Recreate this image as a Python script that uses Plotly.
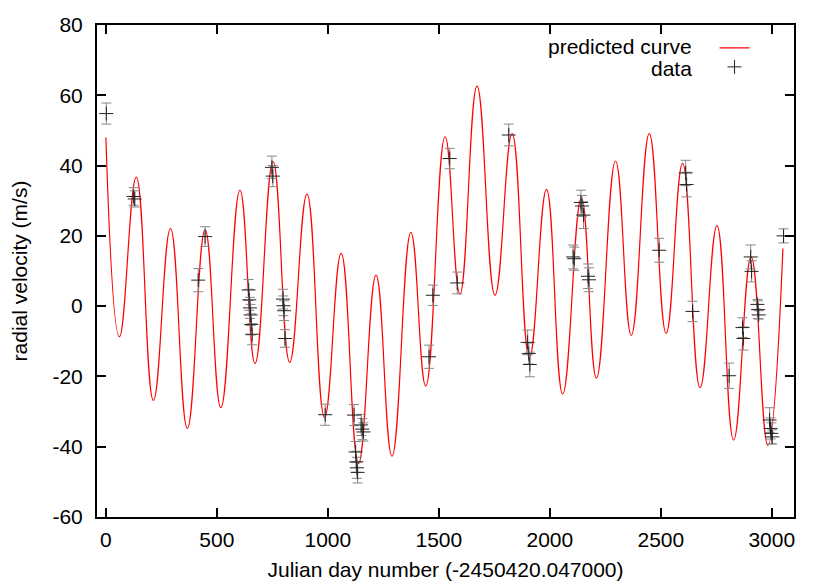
import plotly.graph_objects as go

curve_day = [0, 61, 137, 214, 291, 367, 447, 518, 604, 672, 753, 828, 906, 985,
             1060, 1138, 1217, 1289, 1374, 1441, 1528, 1595, 1672, 1753, 1830,
             1908, 1985, 2058, 2142, 2210, 2296, 2367, 2448, 2524, 2598, 2677,
             2753, 2828, 2907, 2982, 3050]
curve_rv = [48.0, -8.7, 36.7, -26.8, 22.1, -34.8, 21.8, -28.9, 33.0, -16.3, 41.1,
            -16.0, 31.9, -31.7, 15.0, -44.8, 8.8, -42.7, 21.0, -22.7, 48.2, 3.4,
            62.6, 3.1, 49.1, -14.7, 33.2, -25.0, 30.8, -20.5, 41.3, -8.3, 49.1,
            -7.7, 40.6, -23.2, 22.9, -38.1, 14.0, -39.6, 16.4]

# observations
obs_day = [2, 125, 130, 416, 447, 643, 646, 649, 652, 655, 659, 748, 752,
           798, 800, 803, 807, 988, 1118, 1125, 1128, 1131, 1134, 1150, 1155, 1160,
           1456, 1473, 1549, 1583, 1815, 1900, 1905, 1910, 2105, 2110, 2140, 2145,
           2152, 2172, 2176, 2493, 2612, 2616, 2643, 2808, 2868, 2872, 2905, 2909,
           2935, 2938, 2941, 2990, 2994, 2998, 3002, 3053]
obs_rv = [54.8, 31.2, 30.5, 7.4, 19.8, 4.6, 1.8, -0.5, -2.5, -5.2, -8.0, 39.5, 37.0,
          2.0, 0.1, -1.3, -9.2, -30.9, -31.0, -41.5, -44.3, -46.0, -47.3, -33.8, -35.0, -35.8,
          -14.4, 3.1, 42.0, 6.6, 48.7, -10.3, -13.5, -16.6, 14.0, 13.5, 29.5, 28.5,
          25.9, 8.5, 7.5, 15.9, 37.9, 34.6, -1.5, -19.8, -6.1, -9.2, 14.0, 9.9,
          0.5, -1.0, -2.5, -32.4, -34.8, -36.2, -37.2, 20.0]
obs_err = [3.0, 2.5, 2.3, 3.3, 2.8, 3.0, 3.0, 3.0, 3.0, 3.0, 3.0, 3.2, 3.0,
           2.8, 2.8, 2.8, 2.5, 3.0, 3.0, 3.0, 3.0, 3.0, 3.0, 3.0, 3.0, 2.6,
           3.3, 2.9, 2.9, 3.1, 3.1, 3.5, 3.0, 3.5, 3.4, 3.3, 3.5, 3.0,
           3.8, 3.5, 3.4, 3.4, 3.6, 3.5, 2.9, 3.6, 2.8, 3.3, 3.4, 3.0,
           1.4, 2.5, 1.2, 3.5, 3.0, 3.0, 2.0, 2.0]

x_ticks = [0, 500, 1000, 1500, 2000, 2500, 3000]
y_ticks = [-60, -40, -20, 0, 20, 40, 60, 80]
y_labels = ["-60", "-40", "-20", "0", "20", "40", "60", "80"]  # plain hyphen like gnuplot

font = "Liberation Sans, Arial, Helvetica, sans-serif"

fig = go.Figure()

fig.add_trace(go.Scatter(
    x=curve_day, y=curve_rv, mode="lines", name="",
    line=dict(color="#ff0000", width=1.2, shape="spline", smoothing=1.3),
))

fig.add_trace(go.Scatter(
    x=obs_day, y=obs_rv, mode="markers", name="",
    marker=dict(symbol="cross-thin", size=10, line=dict(color="#222222", width=1)),
    error_y=dict(type="data", array=obs_err, visible=True,
                 color="#888888", thickness=1, width=5),
))

# gnuplot style key: text sits left of the sample
for txt, yy in [("predicted curve", 0.956), ("data", 0.912)]:
    fig.add_annotation(text=txt, xref="paper", yref="paper", x=0.857, y=yy,
                       xanchor="right", yanchor="middle", showarrow=False,
                       font=dict(size=21, color="black", family=font))

axis = dict(
    showline=True, linecolor="black", linewidth=2, mirror="ticks",
    ticks="inside", ticklen=9, tickwidth=1.5, tickcolor="black",
    showgrid=False, zeroline=False, automargin=False,
    tickfont=dict(size=21, color="black", family=font),
)

fig.update_xaxes(axis, range=[-40, 3100], tickvals=x_ticks,
                 ticktext=[str(v) for v in x_ticks],
                 title=dict(text="Julian day number (-2450420.047000)",
                            font=dict(size=21, family=font), standoff=12),
                 ticklabelstandoff=3)
fig.update_yaxes(axis, range=[-60, 80], tickvals=y_ticks, ticktext=y_labels,
                 title=dict(text="radial velocity (m/s)",
                            font=dict(size=21, family=font), standoff=20),
                 ticklabelstandoff=8)

# the page body adds an 8px margin, so the figure is a little smaller
fig.update_layout(
    width=822, height=573,
    margin=dict(l=89, r=36, t=17, b=64),
    paper_bgcolor="white", plot_bgcolor="white",
    font=dict(family=font, color="black"),
    showlegend=True,
    legend=dict(x=0.886, y=0.983, xanchor="left", yanchor="top",
                bgcolor="rgba(0,0,0,0)", font=dict(size=12), itemwidth=30,
                tracegroupgap=0),
)

fig.write_html("out.html")
